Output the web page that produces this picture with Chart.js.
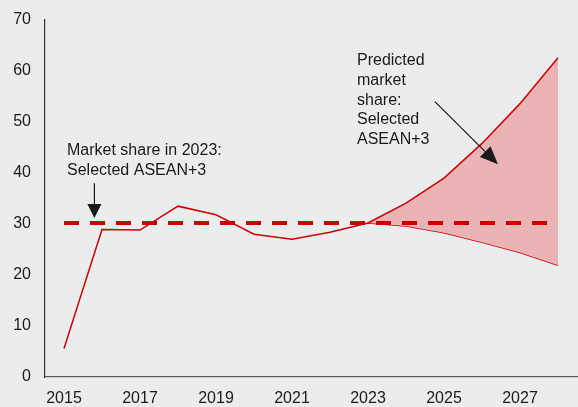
<!DOCTYPE html>
<html>
<head>
<meta charset="utf-8">
<script src="https://cdn.jsdelivr.net/npm/chart.js@4/dist/chart.umd.min.js"></script>
<style>
	html, body { margin: 0; padding: 0; background: #ebecee; }
	#wrap { width: 578px; height: 407px; }
</style>
</head>
<body>
<div id="wrap"><canvas id="shareChart" width="578" height="407"></canvas></div>
<script>
// Market share, selected ASEAN+3 (percent)
const years = ["2015", "2016", "2017", "2018", "2019", "2020", "2021", "2022", "2023", "2024", "2025", "2026", "2027", "2028"];
const actual = [5.6, 28.9, 28.8, 33.5, 31.8, 28.0, 27.0, 28.4, 30.2, null, null, null, null, null];
const predictedHigh = [null, null, null, null, null, null, null, null, 30.2, 34.1, 39.0, 45.8, 53.6, 62.6];
const predictedLow = [null, null, null, null, null, null, null, null, 30.2, 29.6, 28.3, 26.4, 24.4, 21.9];
const share2023 = 30.2;
const yTicks = [0, 10, 20, 30, 40, 50, 60, 70];

const RED = "#cc0000";
const FONT = "'Liberation Sans', Arial, sans-serif";

// draws a line with a filled triangular head at (x2, y2)
function drawArrow(ctx, x1, y1, x2, y2, headLen, headWidth) {
	const ang = Math.atan2(y2 - y1, x2 - x1);
	const bx = x2 - headLen * Math.cos(ang);
	const by = y2 - headLen * Math.sin(ang);
	ctx.beginPath();
	ctx.moveTo(x1, y1);
	ctx.lineTo(bx, by);
	ctx.stroke();
	const px = Math.sin(ang) * headWidth / 2;
	const py = -Math.cos(ang) * headWidth / 2;
	ctx.beginPath();
	ctx.moveTo(x2, y2);
	ctx.lineTo(bx + px, by + py);
	ctx.lineTo(bx - px, by - py);
	ctx.closePath();
	ctx.fill();
}

const annotations = {
	id: "annotations",
	afterDraw(chart) {
		const { ctx, scales: { x, y } } = chart;
		ctx.save();
		ctx.fillStyle = "#1a1a1a";
		ctx.strokeStyle = "#1a1a1a";
		ctx.lineWidth = 1.2;
		ctx.font = "16px " + FONT;
		ctx.textAlign = "left";
		ctx.textBaseline = "alphabetic";

		ctx.fillText("Market share in 2023:", 67, 155);
		ctx.fillText("Selected ASEAN+3", 67, 175);
		drawArrow(ctx, x.getPixelForValue(0.8), y.getPixelForValue(38), x.getPixelForValue(0.8), y.getPixelForValue(31.2), 14, 14);

		const lines = ["Predicted", "market", "share:", "Selected", "ASEAN+3"];
		lines.forEach((t, i) => ctx.fillText(t, 357, 65 + i * 19.8));
		drawArrow(ctx, x.getPixelForValue(9.76), y.getPixelForValue(54), x.getPixelForValue(11.42), y.getPixelForValue(41.7), 18, 15);
		ctx.restore();
	},
};

const ctx = document.getElementById("shareChart").getContext("2d");
new Chart(ctx, {
	type: "line",
	data: {
		labels: years,
		datasets: [
			{
				label: "Market share in 2023",
				data: years.map(() => share2023),
				borderColor: "#c80000",
				borderWidth: 4,
				borderDash: [15, 11],
				pointRadius: 0,
				fill: false,
			},
			{
				label: "Actual",
				data: actual,
				borderColor: RED,
				borderWidth: 1.5,
				pointRadius: 0,
				fill: false,
			},
			{
				label: "Predicted high",
				data: predictedHigh,
				borderColor: RED,
				borderWidth: 1.5,
				pointRadius: 0,
				fill: "+1",
				backgroundColor: "#ecb3b5",
			},
			{
				label: "Predicted low",
				data: predictedLow,
				borderColor: RED,
				borderWidth: 1.5,
				pointRadius: 0,
				fill: false,
			},
		],
	},
	options: {
		responsive: false,
		animation: false,
		layout: { padding: { top: 20, right: 1, left: 0, bottom: 0 } },
		plugins: {
			legend: { display: false },
			tooltip: { enabled: false },
		},
		scales: {
			x: {
				offset: true,
				grid: { drawOnChartArea: false, drawTicks: false },
				border: { color: "#5a5a5a", width: 1.2 },
				ticks: {
					autoSkip: false,
					maxRotation: 0,
					padding: 12,
					color: "#1a1a1a",
					font: { family: FONT, size: 16 },
					callback: (v, i) => (i % 2 === 0 ? years[i] : ""),
				},
				afterFit: (s) => {
					s.height = 30;
					s.paddingLeft = 0;
					s.paddingRight = 0;
				},
			},
			y: {
				min: yTicks[0],
				max: yTicks[yTicks.length - 1],
				grid: { drawOnChartArea: false, drawTicks: false },
				border: { color: "#333333", width: 1.2 },
				afterBuildTicks: (s) => { s.ticks = yTicks.map((v) => ({ value: v })); },
				ticks: {
					padding: 14,
					color: "#1a1a1a",
					font: { family: FONT, size: 16 },
				},
				afterFit: (s) => {
					s.width = 45;
					s.paddingTop = 0;
					s.paddingBottom = 0;
				},
			},
		},
	},
	plugins: [annotations],
});
</script>
</body>
</html>
